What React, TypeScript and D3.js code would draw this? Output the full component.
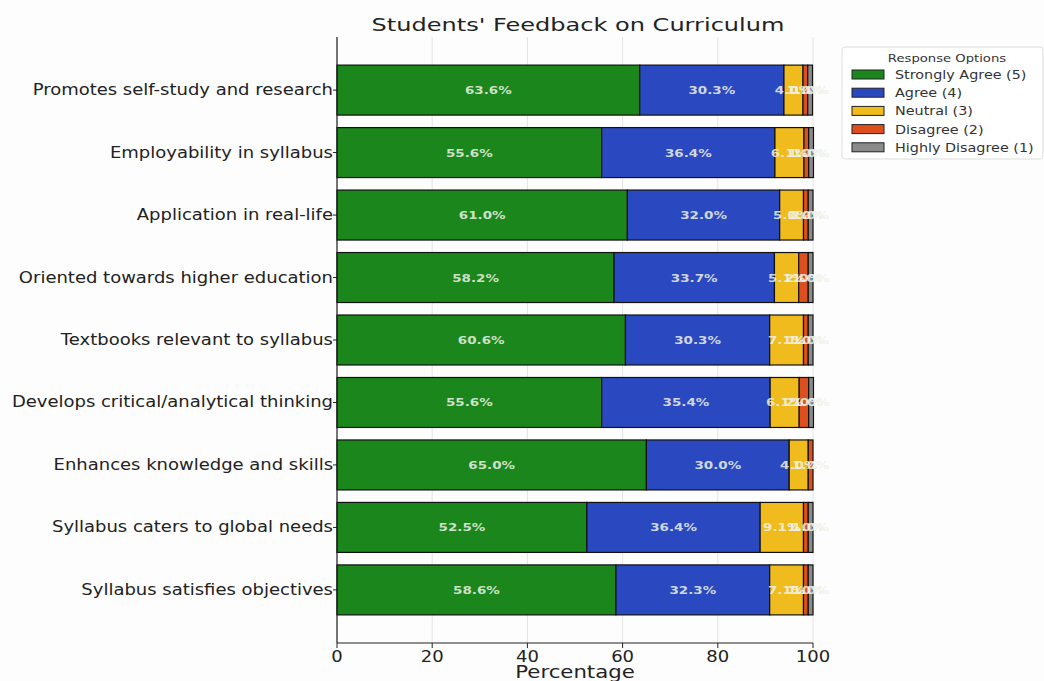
import React from "react";
import * as d3 from "d3";

const categories = [
  "Promotes self-study and research",
  "Employability in syllabus",
  "Application in real-life",
  "Oriented towards higher education",
  "Textbooks relevant to syllabus",
  "Develops critical/analytical thinking",
  "Enhances knowledge and skills",
  "Syllabus caters to global needs",
  "Syllabus satisfies objectives",
];
const seriesNames = ["Strongly Agree (5)", "Agree (4)", "Neutral (3)", "Disagree (2)", "Highly Disagree (1)"];
const stronglyAgree = [63.6, 55.6, 61.0, 58.2, 60.6, 55.6, 65.0, 52.5, 58.6];
const agree = [30.3, 36.4, 32.0, 33.7, 30.3, 35.4, 30.0, 36.4, 32.3];
const neutral = [4.0, 6.1, 5.0, 5.1, 7.1, 6.1, 4.0, 9.1, 7.1];
const disagree = [1.0, 1.0, 1.0, 2.0, 1.0, 2.0, 1.0, 1.0, 1.0];
const highlyDisagree = [1.0, 1.0, 1.0, 1.0, 1.0, 1.0, 0.0, 1.0, 1.0];
const xTicks = [0, 20, 40, 60, 80, 100];
const colors = ["#1b861c", "#2a49c0", "#f0bb1c", "#dd4f1c", "#8a8a8a"];

const FONT = "DejaVu Sans, sans-serif";

function T(props: {
  x: number; y: number; sx: number; size: number; anchor?: string; weight?: string;
  fill?: string; opacity?: number; children: React.ReactNode;
}) {
  const { x, y, sx, size, anchor = "start", weight = "normal", fill = "#222", opacity = 1, children } = props;
  return (
    <text transform={`translate(${x},${y}) scale(${sx},1)`} x={0} y={0} textAnchor={anchor as any}
      fontFamily={FONT} fontSize={size} fontWeight={weight} fill={fill} fillOpacity={opacity}>
      {children}
    </text>
  );
}

export default function App() {
  const W = 1044, H = 681;
  const left = 337, right = 813, top = 37, bottom = 643;
  const x = d3.scaleLinear().domain([0, 100]).range([left, right]);
  const n = categories.length;
  const step = (bottom - top) / (n - 1 + 1.7);
  const yc = (i: number) => top + step * 0.85 + i * step;
  const bh = step * 0.8;
  const series = [stronglyAgree, agree, neutral, disagree, highlyDisagree];

  const rows = categories.map((c, i) => {
    let acc = 0;
    return series.map((s, k) => {
      const v = s[i];
      const x0 = acc;
      acc += v;
      return { k, v, x0, x1: acc };
    });
  });

  return (
    <svg width={W} height={H} style={{ position: "absolute", left: 0, top: 0, background: "#fff" }}>
      <rect width={W} height={H} fill="#fdfdfd" />
      <T x={578} y={31} sx={1.3} size={18.5} anchor="middle">Students' Feedback on Curriculum</T>
      {xTicks.map((t) => (
        <line key={t} x1={x(t)} x2={x(t)} y1={top} y2={bottom} stroke="#e4e4e4" strokeWidth={1} />
      ))}
      {rows.map((segs, i) => (
        <g key={i}>
          {segs.filter((s) => s.v > 0).map((s) => (
            <rect key={s.k} x={x(s.x0)} y={yc(i) - bh / 2} width={x(s.x1) - x(s.x0)} height={bh}
              fill={colors[s.k]} stroke="#111" strokeWidth={1.2} />
          ))}
          {segs.filter((s) => s.v > 0).map((s) => (
            <T key={"t" + s.k} x={(x(s.x0) + x(s.x1)) / 2} y={yc(i) + 4} sx={1.35} size={10}
              anchor="middle" weight="bold" fill="#eef2e8" opacity={0.85}>
              {s.v.toFixed(1) + "%"}
            </T>
          ))}
          <line x1={left - 4} x2={left} y1={yc(i)} y2={yc(i)} stroke="#222" />
          <T x={333} y={yc(i) + 5} sx={1.2} size={15} anchor="end">{categories[i]}</T>
        </g>
      ))}
      <line x1={left} x2={left} y1={top} y2={bottom} stroke="#222" strokeWidth={1.2} />
      <line x1={left} x2={right} y1={bottom} y2={bottom} stroke="#222" strokeWidth={1.2} />
      {xTicks.map((t) => (
        <g key={"x" + t}>
          <line x1={x(t)} x2={x(t)} y1={bottom} y2={bottom + 5} stroke="#222" />
          <T x={x(t)} y={bottom + 19} sx={1.2} size={15} anchor="middle">{t}</T>
        </g>
      ))}
      <T x={575} y={678} sx={1.25} size={17} anchor="middle">Percentage</T>
      <g>
        <rect x={842} y={47} width={201} height={112} fill="#fff" stroke="#ddd" rx={3} />
        <T x={947} y={62} sx={1.2} size={11} anchor="middle" fill="#333">Response Options</T>
        {seriesNames.map((s, k) => (
          <g key={s}>
            <rect x={852} y={70 + k * 18.2} width={32} height={9} fill={colors[k]} stroke="#222" strokeWidth={1} />
            <T x={895} y={79 + k * 18.2} sx={1.25} size={11.5} fill="#333">{s}</T>
          </g>
        ))}
      </g>
    </svg>
  );
}
